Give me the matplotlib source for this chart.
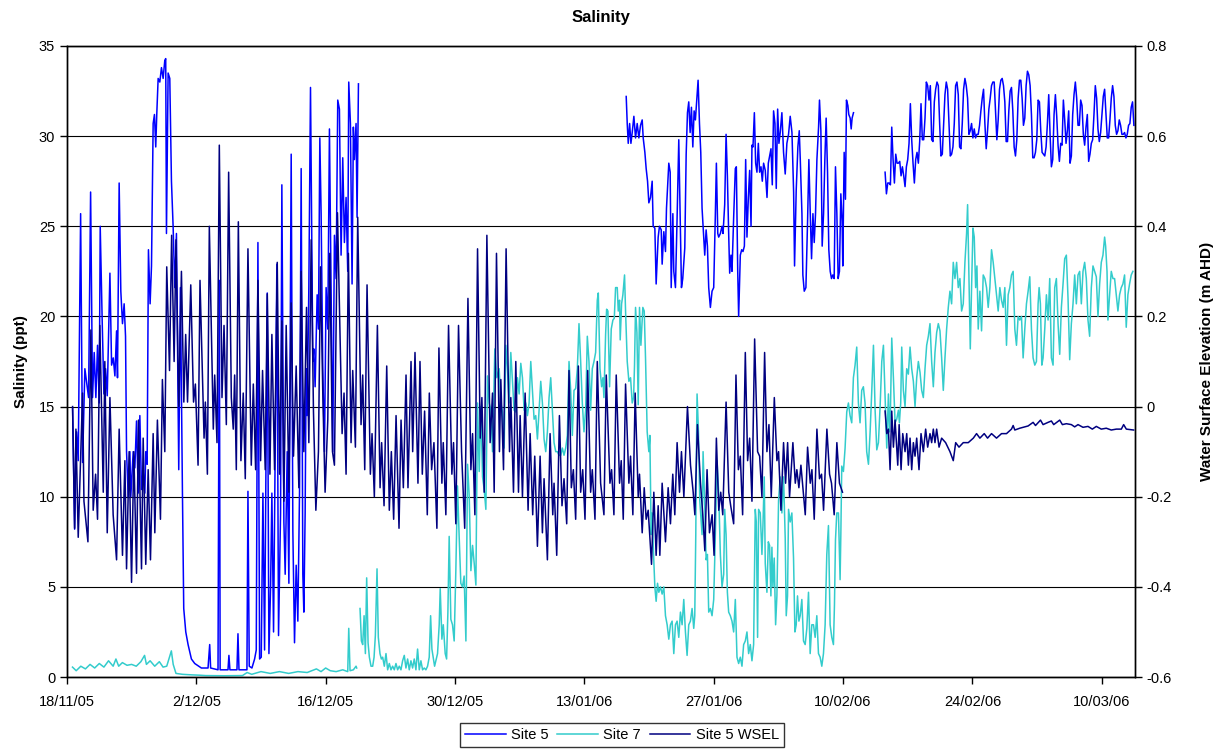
import datetime as dt
import numpy as np
import matplotlib
matplotlib.use("Agg")
import matplotlib.pyplot as plt
import matplotlib.dates as mdates
from matplotlib.ticker import FuncFormatter, MultipleLocator

plt.rcParams['font.family'] = ['Liberation Sans', 'DejaVu Sans']

START = dt.datetime(2005, 11, 18)
X_SPAN_DAYS = 115.6
TICK_LABELS = ['18/11/05', '2/12/05', '16/12/05', '30/12/05', '13/01/06',
               '27/01/06', '10/02/06', '24/02/06', '10/03/06']

# (days since 18/11/05, salinity ppt)
SITE5_A = [
    (0.61, 14.9), (0.83, 8.2), (1.04, 13.6), (1.22, 12.0), (1.48, 25.7), (1.69, 11.9),
    (1.94, 17.1), (2.34, 15.5), (2.56, 26.9), (2.77, 15.5), (2.95, 18.0), (3.13, 15.5),
    (3.31, 18.4), (3.49, 15.2), (3.60, 25.0), (3.82, 19.6), (4.00, 15.7), (4.18, 17.1),
    (4.36, 15.6), (4.65, 22.4), (4.83, 17.3), (5.01, 17.7), (5.19, 16.7), (5.37, 19.2),
    (5.47, 16.6), (5.65, 27.4), (5.83, 21.4), (6.01, 19.6), (6.19, 20.7), (6.34, 18.9),
    (6.45, 12.5), (6.63, 10.0), (6.81, 12.5), (6.91, 10.0), (7.17, 12.5), (7.35, 11.6),
    (7.53, 14.2), (7.71, 10.2), (7.89, 14.5), (8.07, 10.4), (8.25, 11.4), (8.43, 10.2),
    (8.53, 12.5), (8.68, 11.8), (8.82, 23.7), (9.00, 20.7), (9.15, 22.8), (9.33, 30.7),
    (9.47, 31.2), (9.61, 29.4), (9.72, 31.2), (9.87, 33.2), (10.05, 33.0), (10.23, 33.8),
    (10.41, 33.2), (10.59, 34.2), (10.69, 34.3), (10.77, 24.6), (10.95, 33.5), (11.13, 33.2),
    (11.31, 27.5), (11.49, 25.0), (11.67, 21.6), (11.85, 24.6), (12.10, 11.5), (12.28, 21.6),
    (12.50, 10.2), (12.64, 3.8), (12.86, 2.5), (13.11, 1.8), (13.47, 1.0), (13.83, 0.75),
    (14.55, 0.5), (15.27, 0.5), (15.45, 1.8), (15.55, 0.5), (16.35, 0.4), (16.49, 22.0),
    (16.58, 0.4), (17.43, 0.4), (17.53, 1.2), (17.64, 0.4), (18.40, 0.4), (18.51, 2.4),
    (18.62, 0.4), (19.48, 0.4), (19.59, 10.3), (19.73, 0.6), (20.02, 0.5), (20.31, 1.0),
    (20.49, 1.5), (20.67, 24.1), (20.85, 1.0), (21.03, 1.1), (21.21, 10.2), (21.39, 1.5),
    (21.68, 21.3), (21.86, 1.3), (22.04, 5.0), (22.18, 10.2), (22.36, 2.5), (22.72, 22.9),
    (22.90, 2.3), (23.12, 9.1), (23.26, 27.3), (23.48, 8.6), (23.62, 5.7), (23.84, 12.5),
    (24.02, 5.2), (24.27, 29.0), (24.45, 8.1), (24.63, 1.9), (24.81, 6.2), (24.99, 3.1),
    (25.17, 10.2), (25.35, 28.2), (25.53, 5.7), (25.64, 3.6), (25.78, 9.1), (25.89, 17.1),
    (26.00, 14.5), (26.18, 21.6), (26.36, 32.7), (26.50, 24.1), (26.61, 17.5), (26.72, 18.2),
    (26.86, 16.1), (27.08, 21.2), (27.22, 19.3), (27.37, 29.9), (27.51, 25.7), (27.69, 17.1),
    (27.87, 12.5), (28.05, 21.6), (28.23, 19.3), (28.41, 30.4), (28.59, 21.6), (28.77, 12.5),
    (28.95, 24.5), (29.13, 22.1), (29.31, 32.0), (29.49, 31.5), (29.67, 23.4), (29.85, 28.8),
    (30.03, 24.1), (30.21, 26.6), (30.39, 22.5), (30.50, 33.0), (30.68, 30.7), (30.86, 21.8),
    (31.00, 30.5), (31.11, 28.7), (31.29, 30.7), (31.40, 25.5), (31.55, 32.9),
]

SITE5_B = [
    (60.53, 32.2), (60.64, 30.7), (60.75, 29.6), (60.90, 30.7), (61.04, 29.6), (61.18, 30.2),
    (61.36, 31.1), (61.54, 29.9), (61.72, 30.7), (61.90, 29.9), (62.08, 30.6), (62.26, 30.9),
    (62.37, 29.9), (62.55, 29.1), (62.69, 28.2), (62.84, 27.5), (62.98, 26.3), (63.16, 26.6),
    (63.34, 27.5), (63.45, 25.0), (63.63, 24.9), (63.77, 21.8), (63.99, 24.4), (64.13, 25.0),
    (64.32, 24.8), (64.42, 22.9), (64.60, 24.7), (64.78, 23.6), (64.89, 26.0), (65.14, 28.5),
    (65.29, 28.0), (65.40, 21.6), (65.58, 25.7), (65.68, 22.5), (65.86, 21.6), (66.04, 25.5),
    (66.22, 29.8), (66.37, 25.7), (66.51, 21.6), (66.65, 22.1), (66.87, 23.8), (67.02, 29.0),
    (67.16, 31.3), (67.30, 31.9), (67.45, 30.2), (67.59, 31.6), (67.74, 29.4), (67.88, 31.4),
    (68.02, 30.9), (68.17, 32.0), (68.31, 33.1), (68.46, 30.7), (68.60, 29.1), (68.74, 26.0),
    (68.92, 24.4), (69.03, 23.4), (69.18, 24.8), (69.32, 23.9), (69.46, 21.6), (69.64, 20.5),
    (69.82, 21.4), (70.00, 21.6), (70.18, 25.7), (70.29, 28.5), (70.44, 24.6), (70.54, 24.4),
    (70.72, 24.6), (70.90, 25.0), (71.01, 24.6), (71.19, 26.2), (71.34, 30.1), (71.48, 27.8),
    (71.62, 24.6), (71.73, 22.4), (71.87, 23.4), (71.98, 22.5), (72.16, 25.5), (72.34, 28.2),
    (72.45, 28.3), (72.60, 22.5), (72.70, 20.0), (72.88, 23.4), (73.03, 23.7), (73.17, 23.6),
    (73.32, 23.9), (73.46, 28.7), (73.60, 24.4), (73.75, 26.6), (73.89, 28.1), (74.04, 25.0),
    (74.14, 29.5), (74.25, 29.4), (74.40, 31.3), (74.54, 28.5), (74.68, 28.0), (74.83, 29.6),
    (74.97, 28.0), (75.12, 28.3), (75.26, 27.5), (75.40, 28.5), (75.58, 28.1), (75.77, 26.6),
    (75.91, 28.5), (76.05, 28.9), (76.20, 29.3), (76.34, 27.3), (76.48, 31.4), (76.63, 30.7),
    (76.77, 27.1), (76.92, 31.5), (77.06, 29.6), (77.20, 30.2), (77.38, 31.3), (77.56, 29.1),
    (77.74, 27.9), (77.92, 29.6), (78.10, 30.1), (78.28, 31.1), (78.47, 30.2), (78.65, 26.9),
    (78.75, 22.8), (78.93, 27.0), (79.11, 29.4), (79.26, 30.3), (79.37, 28.7), (79.55, 25.7),
    (79.65, 22.3), (79.80, 21.4), (79.98, 21.6), (80.16, 25.3), (80.30, 28.7), (80.45, 25.7),
    (80.59, 23.2), (80.74, 25.7), (80.88, 24.1), (81.02, 25.7), (81.17, 28.7), (81.35, 30.5),
    (81.45, 32.0), (81.60, 30.3), (81.74, 23.9), (81.89, 25.7), (82.03, 28.7), (82.17, 31.0),
    (82.32, 28.0), (82.46, 23.7), (82.61, 22.5), (82.75, 22.1), (82.89, 22.3), (83.04, 22.1),
    (83.18, 28.3), (83.33, 25.7), (83.47, 22.1), (83.61, 22.5), (83.76, 26.8), (83.90, 25.3),
    (83.97, 22.8), (84.12, 29.1), (84.26, 26.5), (84.37, 32.0), (84.52, 31.7), (84.62, 31.2),
    (84.77, 31.0), (84.88, 30.4), (84.98, 31.0), (85.13, 31.3),
]

# regularly logged block: first reading and spacing in days
SITE5_C_START = 88.55
SITE5_C_STEP = 0.144
SITE5_C = [
    28.0, 26.8, 27.4, 27.4, 27.3, 30.5, 28.7, 27.4, 29.0, 28.5, 28.5, 28.6, 27.8, 28.3, 27.8,
    27.2, 28.3, 28.7, 29.6, 31.8, 29.8, 28.5, 27.4, 28.7, 29.1, 28.5, 29.7, 31.8, 29.8, 29.8,
    31.0, 33.0, 32.8, 32.0, 32.8, 29.8, 29.7, 31.9, 32.6, 33.0, 32.8, 30.7, 28.9, 29.0, 30.7,
    32.3, 33.0, 32.6, 30.7, 28.9, 29.0, 29.4, 30.7, 32.8, 33.0, 32.3, 29.4, 29.3, 30.7, 32.6,
    33.2, 32.8, 32.1, 30.1, 30.3, 30.7, 29.9, 30.4, 29.9, 30.1, 30.1, 30.6, 31.4, 32.1, 32.6,
    30.7, 29.3, 30.3, 31.5, 32.1, 32.8, 33.0, 33.0, 31.4, 29.8, 30.9, 32.6, 33.1, 33.2, 32.8,
    31.9, 29.7, 29.7, 31.4, 32.5, 32.7, 31.4, 29.4, 28.9, 29.8, 32.1, 33.1, 33.1, 32.1, 30.6,
    31.0, 32.8, 33.6, 33.4, 32.8, 31.2, 28.8, 28.8, 29.1, 29.8, 32.0, 31.9, 30.3, 29.1, 29.0,
    28.9, 29.4, 30.7, 32.3, 30.1, 28.3, 28.7, 31.2, 32.3, 31.1, 29.5, 28.6, 29.6, 29.5, 32.0,
    30.9, 29.6, 30.3, 31.4, 28.5, 28.9, 31.2, 32.3, 33.0, 32.1, 30.6, 30.6, 32.0, 31.7, 30.1,
    29.5, 30.5, 31.2, 28.6, 29.0, 29.6, 29.8, 31.2, 32.8, 32.1, 30.4, 29.7, 30.2, 31.2, 32.2,
    32.6, 31.2, 29.9, 29.9, 30.9, 32.1, 32.8, 32.2, 30.6, 30.1, 30.3, 30.9, 30.6, 30.1, 30.1,
    30.2, 29.9, 30.1, 30.6, 30.7, 31.6, 31.9, 30.6,
]

SITE7_A = [
    (0.6, 0.55), (1.0, 0.35), (1.5, 0.6), (2.0, 0.45), (2.5, 0.7), (3.0, 0.5), (3.5, 0.75),
    (4.0, 0.55), (4.5, 0.9), (5.0, 0.6), (5.3, 1.0), (5.6, 0.6), (6.0, 0.8), (6.5, 0.65),
    (7.0, 0.7), (7.5, 0.6), (8.0, 0.85), (8.4, 1.2), (8.6, 0.7), (9.0, 0.9), (9.5, 0.6),
    (10.0, 0.85), (10.4, 0.55), (10.8, 0.6), (11.3, 1.45), (11.5, 0.7), (11.8, 0.2),
    (12.5, 0.15), (13.5, 0.12), (14.4, 0.1), (15.0, 0.08), (17.0, 0.07), (19.0, 0.08),
    (19.5, 0.25), (20.0, 0.15), (21.0, 0.3), (22.0, 0.2), (23.0, 0.3), (24.0, 0.2),
    (25.0, 0.3), (26.0, 0.25), (27.0, 0.45), (27.5, 0.3), (28.0, 0.5), (28.5, 0.35),
    (29.13, 0.3), (29.85, 0.4), (30.39, 0.3), (30.50, 2.7), (30.64, 0.35), (31.00, 0.4),
    (31.29, 0.6), (31.36, 0.5),
]

SITE7_B = [
    (31.72, 3.8), (31.87, 2.0), (32.01, 1.8), (32.16, 3.4), (32.30, 1.3), (32.44, 5.5),
    (32.59, 1.9), (32.73, 1.1), (32.91, 0.6), (33.09, 0.6), (33.24, 1.1), (33.38, 2.3),
    (33.56, 6.0), (33.70, 2.2), (33.88, 1.3), (34.03, 1.0), (34.17, 1.1), (34.35, 0.6),
    (34.53, 1.3), (34.71, 0.4), (34.89, 0.75), (35.07, 0.4), (35.25, 0.6), (35.43, 0.4),
    (35.61, 0.75), (35.79, 0.4), (35.97, 0.6), (36.15, 0.4), (36.33, 0.9), (36.51, 1.2),
    (36.69, 0.5), (36.87, 1.0), (37.05, 0.4), (37.23, 0.9), (37.41, 0.5), (37.59, 1.0),
    (37.77, 0.4), (37.95, 1.55), (38.13, 0.4), (38.31, 0.9), (38.49, 0.4), (38.67, 0.5),
    (38.85, 0.4), (39.03, 0.6), (39.21, 1.1), (39.36, 3.4), (39.50, 1.55), (39.64, 1.1),
    (39.79, 0.6), (39.93, 0.9), (40.11, 1.3), (40.29, 2.9), (40.40, 4.9), (40.58, 2.1),
    (40.73, 2.9), (40.94, 1.3), (41.09, 1.0), (41.23, 3.6), (41.37, 7.8), (41.55, 3.2),
    (41.73, 2.9), (41.91, 2.0), (42.09, 5.9), (42.27, 10.6), (42.45, 7.8), (42.63, 5.2),
    (42.81, 5.0), (42.99, 5.6), (43.18, 2.0), (43.36, 11.8), (43.54, 10.0), (43.72, 5.9),
    (43.90, 7.3), (44.08, 6.3), (44.26, 5.1), (44.44, 15.2), (44.62, 11.4), (44.80, 15.0),
    (44.98, 11.1), (45.16, 10.4), (45.34, 9.3), (45.52, 16.7), (45.70, 15.2), (45.88, 14.8),
    (46.06, 12.5), (46.31, 18.2), (46.53, 16.6), (46.78, 17.1), (46.96, 15.2), (47.14, 14.7),
    (47.32, 12.7), (47.50, 18.4), (47.68, 17.1), (47.86, 15.2), (48.04, 18.0), (48.22, 16.4),
    (48.40, 14.8), (48.58, 14.7), (48.76, 16.6), (48.94, 15.7), (49.12, 17.4), (49.30, 16.6),
    (49.48, 14.8), (49.66, 15.2), (49.84, 14.5), (50.02, 15.2), (50.20, 17.5), (50.38, 15.9),
    (50.56, 14.3), (50.74, 14.5), (50.92, 13.2), (51.10, 14.8), (51.28, 16.4), (51.46, 15.2),
    (51.64, 13.2), (51.82, 12.5), (52.00, 13.6), (52.18, 15.5), (52.36, 16.6), (52.54, 14.8),
    (52.72, 13.0), (52.90, 12.5), (53.08, 12.5), (53.26, 12.3), (53.44, 12.3), (53.62, 12.7),
    (53.80, 12.3), (53.98, 12.7), (54.16, 13.4), (54.34, 17.5), (54.52, 15.9), (54.70, 13.4),
    (54.88, 15.9), (55.06, 16.0), (55.24, 17.1), (55.42, 19.6), (55.60, 17.5), (55.78, 15.2),
    (55.96, 13.6), (56.14, 14.8), (56.32, 18.9), (56.50, 17.5), (56.68, 14.8), (56.86, 17.1),
    (57.04, 17.5), (57.22, 18.0), (57.40, 20.9), (57.51, 21.3), (57.69, 17.1), (57.87, 16.1),
    (58.01, 16.6), (58.12, 15.5), (58.30, 19.0), (58.41, 20.4), (58.55, 20.3), (58.73, 16.1),
    (58.91, 19.3), (59.09, 19.8), (59.24, 19.9), (59.38, 21.6), (59.56, 21.6), (59.67, 20.3),
    (59.81, 20.9), (59.88, 18.7), (60.03, 20.7), (60.17, 21.2), (60.35, 22.3), (60.46, 20.3),
    (60.64, 17.5), (60.82, 16.4), (61.00, 16.6), (61.18, 15.2), (61.33, 15.5), (61.43, 17.3),
    (61.54, 20.5), (61.69, 19.1), (61.83, 15.1), (61.97, 20.5), (62.12, 18.4), (62.33, 20.5),
    (62.48, 20.3), (62.62, 17.7), (62.80, 13.6), (62.98, 12.5), (63.09, 13.4), (63.23, 7.9),
    (63.34, 9.1), (63.49, 6.8), (63.63, 5.0), (63.77, 4.2), (63.92, 5.2), (64.06, 4.7),
    (64.24, 5.0), (64.42, 4.6), (64.60, 5.0), (64.78, 3.4), (64.96, 2.9), (65.14, 2.1),
    (65.32, 2.9), (65.50, 3.1), (65.68, 1.3), (65.86, 2.9), (66.04, 3.1), (66.22, 2.2),
    (66.40, 3.6), (66.58, 2.9), (66.76, 4.3), (66.94, 2.5), (67.12, 1.2), (67.30, 2.9),
    (67.48, 3.1), (67.66, 3.8), (67.84, 2.7), (67.95, 3.4), (68.06, 7.9), (68.13, 12.5),
    (68.20, 15.7), (68.35, 13.6), (68.49, 9.8), (68.74, 7.9), (68.85, 12.5), (69.03, 9.5),
    (69.18, 6.5), (69.32, 6.8), (69.46, 3.6), (69.64, 3.8), (69.82, 3.4), (70.00, 4.3),
    (70.18, 7.9), (70.36, 12.0), (70.54, 10.2), (70.72, 6.8), (70.90, 5.0), (71.08, 5.7),
    (71.19, 9.3), (71.34, 7.9), (71.48, 4.7), (71.62, 3.6), (71.80, 3.4), (71.98, 3.1),
    (72.16, 2.5), (72.34, 4.3), (72.52, 1.1), (72.70, 0.75), (72.88, 1.1), (73.06, 0.6),
    (73.24, 1.8), (73.42, 2.0), (73.60, 2.5), (73.78, 1.3), (73.96, 1.8), (74.14, 0.9),
    (74.32, 1.8), (74.50, 9.3), (74.61, 8.6), (74.75, 2.2), (74.86, 9.3), (75.04, 9.1),
    (75.22, 6.8), (75.33, 8.4), (75.47, 11.1), (75.58, 6.3), (75.76, 4.7), (75.91, 7.5),
    (76.05, 7.3), (76.19, 4.5), (76.30, 7.2), (76.41, 5.0), (76.55, 6.6), (76.70, 2.9),
    (76.84, 4.5), (77.02, 9.8), (77.20, 11.1), (77.38, 9.1), (77.56, 11.1), (77.74, 7.7),
    (77.85, 3.4), (77.99, 4.5), (78.10, 9.3), (78.28, 8.6), (78.46, 9.1), (78.64, 6.6),
    (78.79, 2.5), (78.93, 2.9), (79.07, 4.5), (79.22, 3.1), (79.36, 3.4), (79.54, 4.3),
    (79.72, 2.0), (79.90, 1.8), (80.08, 2.7), (80.26, 4.7), (80.44, 1.3), (80.62, 2.9),
    (80.80, 2.9), (80.98, 2.2), (81.16, 3.4), (81.34, 1.3), (81.52, 1.1), (81.70, 0.6),
    (81.88, 1.3), (82.06, 2.9), (82.24, 6.8), (82.42, 8.4), (82.60, 2.9), (82.78, 2.2),
    (82.96, 1.8), (83.07, 4.0), (83.18, 7.6), (83.32, 9.1), (83.50, 9.1), (83.68, 5.4),
    (83.76, 7.9), (83.86, 11.7), (84.04, 11.4), (84.22, 12.7), (84.40, 14.7), (84.58, 15.2),
    (84.76, 14.5), (84.94, 14.1), (85.12, 16.6), (85.30, 17.3), (85.48, 18.3), (85.66, 15.2),
    (85.84, 14.1), (86.02, 15.9), (86.20, 16.1), (86.38, 15.2), (86.56, 12.5), (86.75, 11.8),
    (86.93, 13.6), (87.11, 15.9), (87.29, 18.4), (87.47, 14.8), (87.65, 12.6), (87.83, 13.0),
    (88.01, 15.0), (88.19, 17.5), (88.37, 18.4), (88.55, 15.5), (88.73, 12.7), (88.91, 15.7),
    (89.02, 13.6), (89.13, 14.8), (89.27, 18.8), (89.45, 16.6), (89.63, 14.1), (89.81, 14.3),
    (89.99, 14.8), (90.10, 14.1), (90.24, 15.2), (90.35, 18.3), (90.53, 15.9), (90.71, 15.0),
    (90.89, 17.1), (91.07, 16.8), (91.25, 18.3), (91.43, 17.1), (91.61, 16.4), (91.79, 15.0),
    (91.97, 16.6), (92.15, 17.5), (92.33, 16.9), (92.51, 15.9), (92.69, 15.5), (92.87, 17.1),
    (93.05, 18.4), (93.23, 18.9), (93.41, 19.6), (93.59, 17.5), (93.77, 16.1), (93.95, 18.0),
    (94.13, 19.1), (94.31, 19.6), (94.49, 19.2), (94.67, 17.7), (94.85, 15.9), (95.03, 17.7),
    (95.21, 19.3), (95.39, 20.5), (95.57, 21.4), (95.75, 20.7), (95.93, 23.0), (96.11, 22.1),
    (96.29, 23.0), (96.47, 21.6), (96.65, 22.1), (96.83, 20.3), (97.01, 20.7), (97.19, 23.0),
    (97.37, 24.6), (97.48, 26.2), (97.62, 22.3), (97.77, 18.2), (97.91, 21.6), (98.06, 24.9),
    (98.20, 24.4), (98.35, 21.6), (98.49, 22.8), (98.63, 19.3), (98.81, 21.4), (98.99, 19.2),
    (99.17, 22.3), (99.35, 22.1), (99.53, 21.6), (99.71, 20.5), (99.89, 21.6), (100.07, 23.7),
    (100.25, 23.0), (100.43, 22.1), (100.61, 21.2), (100.79, 20.3), (100.97, 21.6),
    (101.15, 20.9), (101.33, 20.5), (101.51, 21.6), (101.69, 18.4), (101.87, 21.2),
    (102.05, 21.6), (102.23, 22.3), (102.41, 22.5), (102.59, 19.3), (102.77, 18.4),
    (102.95, 20.0), (103.13, 19.8), (103.31, 20.0), (103.49, 17.7), (103.67, 19.3),
    (103.85, 20.7), (104.03, 21.4), (104.21, 22.2), (104.39, 19.3), (104.57, 17.7),
    (104.75, 17.3), (104.93, 17.5), (105.11, 20.7), (105.22, 21.6), (105.36, 20.7),
    (105.51, 17.3), (105.65, 17.7), (105.83, 19.3), (106.01, 21.2), (106.19, 19.8),
    (106.37, 22.1), (106.55, 17.7), (106.73, 17.3), (106.91, 21.6), (107.09, 22.1),
    (107.27, 19.6), (107.45, 17.9), (107.63, 20.5), (107.81, 21.8), (107.99, 23.2),
    (108.17, 23.4), (108.35, 21.0), (108.53, 17.6), (108.71, 19.6), (108.89, 20.7),
    (109.07, 22.3), (109.25, 20.7), (109.43, 22.3), (109.61, 22.5), (109.79, 20.7),
    (109.97, 22.5), (110.15, 23.0), (110.33, 22.1), (110.51, 19.8), (110.69, 18.9),
    (110.87, 21.6), (111.05, 22.8), (111.23, 22.5), (111.41, 22.2), (111.59, 20.0),
    (111.77, 21.8), (111.95, 23.0), (112.13, 23.4), (112.31, 24.4), (112.42, 23.9),
    (112.57, 22.5), (112.67, 19.8), (112.85, 21.2), (113.03, 22.5), (113.21, 22.1),
    (113.39, 22.1), (113.57, 21.2), (113.75, 20.3), (113.93, 21.2), (114.11, 21.6),
    (114.29, 21.8), (114.47, 22.3), (114.65, 19.4), (114.83, 21.2), (115.01, 21.8),
    (115.19, 22.3), (115.37, 22.5),
]

# (days since 18/11/05, water surface elevation m AHD)
WSEL_A = [
    (0.61, 0.00), (0.83, -0.27), (0.97, -0.05), (1.22, -0.29), (1.69, 0.03), (1.84, -0.21),
    (2.27, -0.30), (2.59, 0.17), (2.84, -0.23), (3.10, -0.15), (3.31, -0.25), (3.56, 0.18),
    (3.93, -0.19), (4.10, 0.10), (4.36, -0.28), (4.65, 0.02), (5.00, -0.24), (5.37, -0.34),
    (5.65, -0.05), (6.01, -0.33), (6.27, -0.12), (6.45, -0.36), (6.73, -0.10), (6.99, -0.39),
    (7.24, -0.10), (7.53, -0.37), (7.74, -0.03), (8.07, -0.36), (8.25, -0.07), (8.53, -0.35),
    (8.79, -0.14), (9.04, -0.34), (9.33, -0.06), (9.51, -0.28), (9.79, -0.03), (10.12, -0.25),
    (10.33, 0.06), (10.59, -0.10), (10.80, 0.31), (11.10, 0.08), (11.33, 0.38), (11.60, 0.10),
    (11.80, 0.37), (12.10, 0.00), (12.39, 0.30), (12.65, 0.01), (12.85, 0.16), (13.05, 0.01),
    (13.40, 0.27), (13.70, 0.01), (13.90, 0.05), (14.19, -0.13), (14.40, 0.28), (14.84, -0.07),
    (14.98, 0.01), (15.20, -0.15), (15.41, 0.40), (15.84, -0.05), (15.99, 0.07), (16.24, -0.08),
    (16.49, 0.58), (16.78, 0.02), (17.00, 0.18), (17.25, -0.04), (17.50, 0.52), (17.79, 0.02),
    (18.00, -0.05), (18.15, 0.07), (18.33, -0.14), (18.55, 0.41), (18.83, -0.12), (19.08, 0.03),
    (19.30, -0.16), (19.59, 0.35), (19.95, -0.13), (20.17, 0.05), (20.42, -0.14), (20.67, 0.28),
    (20.96, -0.12), (21.17, 0.08), (21.46, -0.14), (21.68, 0.25), (21.97, -0.15), (22.18, 0.16),
    (22.47, -0.14), (22.76, 0.32), (23.01, -0.15), (23.26, 0.19), (23.48, -0.21), (23.73, 0.18),
    (24.02, -0.19), (24.27, 0.23), (24.52, -0.11), (24.81, 0.09), (25.10, -0.18), (25.35, 0.30),
    (25.64, -0.10), (25.93, 0.22), (26.18, -0.08), (26.43, 0.37), (26.68, -0.01), (26.94, -0.23),
    (27.22, -0.10), (27.44, 0.31), (27.69, 0.03), (27.94, -0.19), (28.23, -0.03), (28.45, 0.34),
    (28.74, -0.10), (28.95, -0.13), (29.28, 0.43), (29.78, -0.06), (29.99, 0.03), (30.21, -0.15),
    (30.46, 0.34), (30.75, -0.08), (30.93, 0.08), (31.22, -0.09), (31.47, 0.42), (31.83, -0.04),
    (32.01, 0.07), (32.23, -0.14), (32.48, 0.27), (32.84, -0.15), (33.02, -0.06), (33.27, -0.20),
    (33.60, 0.18), (33.89, -0.18), (34.06, -0.08), (34.32, -0.22), (34.61, 0.09), (34.89, -0.23),
    (35.11, -0.10), (35.36, -0.25), (35.62, -0.02), (35.94, -0.27), (36.16, -0.03), (36.41, -0.18),
    (36.70, 0.07), (36.91, -0.18), (37.24, 0.10), (37.42, -0.10), (37.67, 0.12), (37.99, -0.17),
    (38.21, 0.10), (38.46, -0.15), (38.71, -0.01), (39.00, -0.24), (39.22, 0.03), (39.47, -0.14),
    (39.72, -0.08), (40.04, -0.27), (40.26, 0.13), (40.58, -0.17), (40.73, -0.08), (41.01, -0.24),
    (41.30, 0.18), (41.66, -0.15), (41.84, -0.08), (42.09, -0.26), (42.38, 0.18), (42.71, -0.10),
    (43.05, -0.27), (43.40, 0.24), (43.72, -0.14), (43.90, -0.06), (44.15, -0.24), (44.44, 0.35),
    (44.73, -0.07), (44.91, 0.02), (45.16, -0.19), (45.45, 0.38), (45.80, -0.08), (46.06, 0.03),
    (46.24, -0.19), (46.49, 0.34), (46.81, -0.10), (46.96, 0.06), (47.25, -0.14), (47.53, 0.35),
    (47.90, -0.10), (48.04, 0.02), (48.33, -0.19), (48.58, 0.10), (48.87, -0.19), (49.05, -0.02),
    (49.30, -0.20), (49.59, 0.03), (49.91, -0.23), (50.13, -0.06), (50.41, -0.24), (50.63, -0.11),
    (50.92, -0.31), (51.21, -0.11), (51.46, -0.28), (51.64, -0.16), (52.00, -0.34), (52.29, -0.06),
    (52.58, -0.24), (52.72, -0.17), (53.01, -0.33), (53.30, -0.02), (53.58, -0.22), (53.80, -0.16),
    (54.09, -0.26), (54.34, 0.08), (54.59, -0.18), (54.81, -0.14), (55.06, -0.25), (55.35, 0.09),
    (55.60, -0.19), (55.82, -0.14), (56.07, -0.25), (56.36, 0.08), (56.68, -0.19), (56.86, -0.14),
    (57.15, -0.25), (57.40, 0.10), (57.76, -0.17), (58.12, -0.24), (58.37, 0.07), (58.77, -0.17),
    (58.95, -0.14), (59.20, -0.24), (59.45, 0.07), (59.81, -0.17), (59.99, -0.12), (60.21, -0.25),
    (60.46, 0.05), (60.82, -0.17), (61.00, -0.11), (61.25, -0.24), (61.50, 0.03), (61.83, -0.20),
    (61.97, -0.15), (62.26, -0.28), (62.48, -0.18), (62.69, -0.25), (62.91, -0.23), (63.27, -0.35),
    (63.52, -0.19), (63.77, -0.33), (63.99, -0.22), (64.17, -0.33), (64.42, -0.17), (64.78, -0.30),
    (65.07, -0.18), (65.32, -0.26), (65.57, -0.15), (65.79, -0.24), (66.04, -0.08), (66.30, -0.19),
    (66.51, -0.10), (66.77, -0.20), (67.16, 0.00), (67.49, -0.13), (67.78, -0.19), (67.96, -0.24),
    (68.24, -0.04), (68.57, -0.17), (68.82, -0.24), (69.04, -0.32), (69.28, -0.14), (69.54, -0.28),
    (69.83, -0.24), (70.04, -0.33), (70.29, -0.07), (70.55, -0.23), (70.76, -0.19), (70.98, -0.24),
    (71.34, 0.01), (71.63, -0.19), (71.84, -0.22), (72.16, -0.26), (72.41, 0.07), (72.67, -0.14),
    (72.88, -0.11), (73.13, -0.24), (73.42, 0.12), (73.67, -0.12), (73.89, -0.07), (74.14, -0.21),
    (74.43, 0.15), (74.75, -0.10), (74.97, -0.11), (75.22, -0.20), (75.51, 0.12), (75.76, -0.10),
    (75.98, -0.04), (76.23, -0.20), (76.56, 0.02), (76.84, -0.12), (77.02, -0.10), (77.28, -0.23),
    (77.56, -0.08), (77.78, -0.17), (78.00, -0.08), (78.21, -0.20), (78.57, -0.08), (78.83, -0.17),
    (79.00, -0.14), (79.22, -0.18), (79.44, -0.13), (79.91, -0.24), (80.16, -0.09), (80.45, -0.17),
    (80.63, -0.14), (80.88, -0.25), (81.17, -0.05), (81.45, -0.16), (81.67, -0.15), (81.89, -0.23),
    (82.25, -0.05), (82.54, -0.15), (82.75, -0.17), (83.04, -0.24), (83.33, -0.08), (83.61, -0.17),
    (83.94, -0.19),
]

WSEL_B = [
    (88.55, -0.01), (88.73, -0.06), (88.91, -0.05), (89.09, -0.14), (89.27, -0.01),
    (89.45, -0.09), (89.63, -0.03), (89.92, -0.13), (90.07, -0.04), (90.28, -0.14),
    (90.46, -0.06), (90.71, -0.10), (90.89, -0.06), (91.07, -0.13), (91.25, -0.07),
    (91.43, -0.14), (91.61, -0.08), (91.79, -0.11), (91.97, -0.07), (92.22, -0.14),
    (92.44, -0.06), (92.69, -0.10), (92.94, -0.05), (93.16, -0.09), (93.41, -0.06),
    (93.59, -0.08), (93.77, -0.05), (93.95, -0.08), (94.13, -0.05), (94.39, -0.09),
    (94.67, -0.07), (95.10, -0.08), (95.57, -0.10), (95.93, -0.12), (96.19, -0.08),
    (96.55, -0.09), (97.01, -0.08), (97.55, -0.08), (98.10, -0.07), (98.45, -0.06),
    (98.81, -0.07), (99.28, -0.06), (99.64, -0.07), (100.07, -0.06), (100.61, -0.07),
    (101.15, -0.06), (101.69, -0.06), (102.23, -0.05), (102.41, -0.042), (102.59, -0.052),
    (103.13, -0.048), (103.49, -0.046), (104.03, -0.043), (104.57, -0.035), (104.83, -0.042),
    (105.37, -0.030), (105.65, -0.040), (106.19, -0.035), (106.55, -0.032), (106.80, -0.040),
    (107.45, -0.030), (107.74, -0.040), (108.17, -0.038), (108.71, -0.040), (109.07, -0.045),
    (109.43, -0.040), (109.97, -0.046), (110.51, -0.044), (110.98, -0.050), (111.41, -0.044),
    (111.95, -0.050), (112.49, -0.048), (113.03, -0.052), (113.58, -0.050), (114.12, -0.050),
    (114.37, -0.040), (114.66, -0.050), (115.45, -0.052),
]

COL_SITE5 = '#0000FF'
COL_SITE7 = '#33CCCC'
COL_WSEL = '#000080'

base = mdates.date2num(START)


def unpack(pairs):
    arr = np.array(pairs, dtype=float)
    return base + arr[:, 0], arr[:, 1]


fig = plt.figure(figsize=(12.24, 7.49), dpi=100)
ax = fig.add_axes([0.0547, 0.0961, 0.8726, 0.8425])

lw = 1.1
x, y = unpack(SITE5_A)
ax.plot(x, y, color=COL_SITE5, lw=lw, label='Site 5')
x, y = unpack(SITE5_B)
ax.plot(x, y, color=COL_SITE5, lw=lw)
xc = base + SITE5_C_START + SITE5_C_STEP * np.arange(len(SITE5_C))
ax.plot(xc, SITE5_C, color=COL_SITE5, lw=lw)

x, y = unpack(SITE7_A)
ax.plot(x, y, color=COL_SITE7, lw=lw, label='Site 7')
x, y = unpack(SITE7_B)
ax.plot(x, y, color=COL_SITE7, lw=lw)

ax2 = ax.twinx()
x, y = unpack(WSEL_A)
ax2.plot(x, y, color=COL_WSEL, lw=lw, label='Site 5 WSEL')
x, y = unpack(WSEL_B)
ax2.plot(x, y, color=COL_WSEL, lw=lw)

ax.set_xlim(base, base + X_SPAN_DAYS)
ax.set_ylim(0, 35)
ax2.set_ylim(-0.6, 0.8)
ax.yaxis.set_major_locator(MultipleLocator(5))
ax2.yaxis.set_major_locator(MultipleLocator(0.2))
ax2.yaxis.set_major_formatter(FuncFormatter(lambda v, p: f"{round(v, 1):g}"))

tick_pos = [mdates.date2num(dt.datetime.strptime(t, '%d/%m/%y')) for t in TICK_LABELS]
ax.set_xticks(tick_pos)
ax.set_xticklabels(TICK_LABELS)

ax.grid(axis='y', color='black', lw=0.8)
ax.set_axisbelow(True)
for a in (ax, ax2):
    for s in a.spines.values():
        s.set_color('black')
        s.set_linewidth(1.0)
    a.tick_params(direction='out', length=5, width=1, labelsize=10.5, colors='black')
ax.tick_params(axis='x', pad=8)

ax.set_title('Salinity', fontsize=12, fontweight='bold', pad=17)
ax.set_ylabel('Salinity (ppt)', fontsize=11, fontweight='bold', labelpad=8)
ax2.set_ylabel('Water Surface Elevation (m AHD)', fontsize=11, fontweight='bold', labelpad=20)

h1, l1 = ax.get_legend_handles_labels()
h2, l2 = ax2.get_legend_handles_labels()
leg = fig.legend(h1 + h2, l1 + l2, loc='center', bbox_to_anchor=(0.508, 0.0187), ncol=3,
                 fontsize=10.5, frameon=True, fancybox=False, edgecolor='black',
                 handlelength=2.8, handletextpad=0.35, columnspacing=0.6,
                 borderpad=0.35, borderaxespad=0)
leg.get_frame().set_linewidth(1.0)

fig.savefig('out.png', dpi=100)
